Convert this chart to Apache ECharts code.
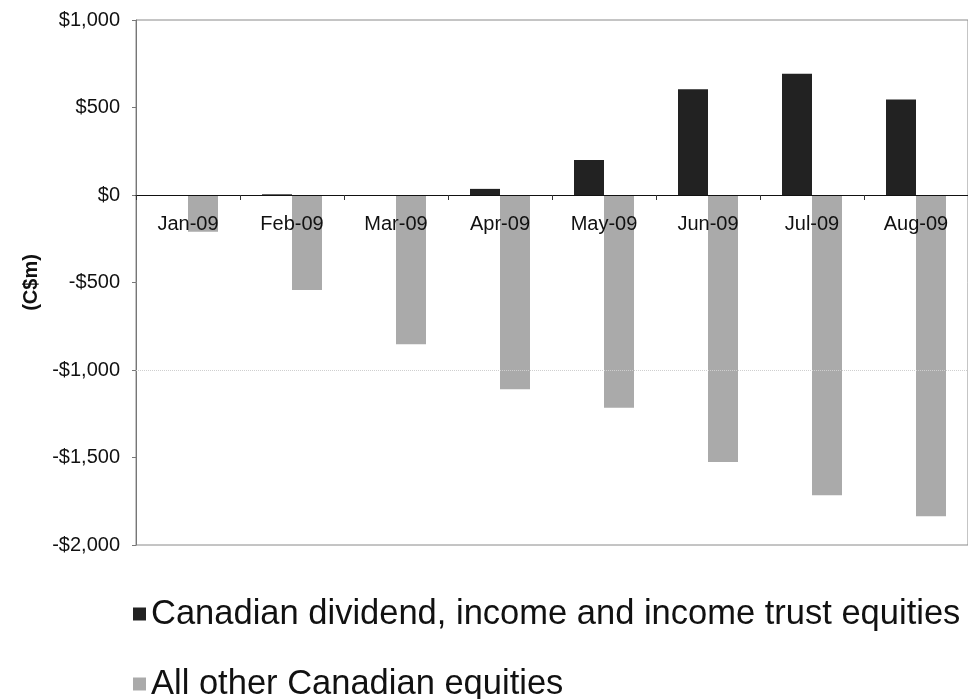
<!DOCTYPE html>
<html>
<head>
<meta charset="utf-8">
<script src="https://cdn.jsdelivr.net/npm/echarts@6/dist/echarts.min.js"></script>
<style>
html,body{margin:0;padding:0;background:#fff;}
#chart{width:968px;height:699px;}
</style>
</head>
<body>
<div id="chart"></div>
<script>
var categories = ['Jan-09','Feb-09','Mar-09','Apr-09','May-09','Jun-09','Jul-09','Aug-09'];
var seriesNames = ['Canadian dividend, income and income trust equities','All other Canadian equities'];
var dividendValues = [-5, 4, -3, 35, 200, 605, 693, 546];
var otherValues = [-210, -543, -853, -1110, -1215, -1526, -1716, -1836];
var yMin = -2000, yMax = 1000, yStep = 500;
var yAxisTitle = '(C$m)';

function fmt(v){
  var a = Math.abs(v).toString().replace(/\B(?=(\d{3})+(?!\d))/g, ',');
  return (v < 0 ? '-$' : '$') + a;
}

var gridTop = 20, gridHeight = 525;
// distance from the bottom of the plot up to the zero line, from the axis range
var zeroOffset = gridHeight * (0 - yMin) / (yMax - yMin);

var legendText = {fontSize:34.5, color:'#111', lineHeight:38, fontFamily:'Liberation Sans, Arial, sans-serif'};

var chart = echarts.init(document.getElementById('chart'), null, {renderer:'canvas'});
chart.setOption({
  animation:false,
  backgroundColor:'#ffffff',
  textStyle:{fontFamily:'Liberation Sans, Arial, sans-serif'},
  grid:{left:136, top:gridTop, width:852, height:gridHeight, show:true, borderColor:'#8a8a8a', borderWidth:1, backgroundColor:'transparent'},
  legend:[
    {left:128, top:590, itemWidth:13, itemHeight:13, icon:'rect', textStyle:legendText, data:[seriesNames[0]]},
    {left:128, top:660, itemWidth:13, itemHeight:13, icon:'rect', textStyle:legendText, data:[seriesNames[1]]}
  ],
  xAxis:{
    type:'category', data:categories, position:'bottom', z:10,
    offset:-zeroOffset,
    axisLine:{onZero:false, lineStyle:{color:'#111', width:1}},
    axisTick:{show:true, length:5, lineStyle:{color:'#333'}},
    axisLabel:{fontSize:20, color:'#111', margin:19, interval:0},
    splitLine:{show:false}
  },
  yAxis:{
    type:'value', min:yMin, max:yMax, interval:yStep,
    name:yAxisTitle, nameLocation:'middle', nameRotate:90, nameGap:93,
    nameTextStyle:{fontSize:20, fontWeight:'bold', color:'#111'},
    axisLine:{show:true, lineStyle:{color:'#777'}},
    axisTick:{show:true, length:4, lineStyle:{color:'#777'}},
    axisLabel:{fontSize:20, color:'#111', margin:16, formatter:fmt},
    splitLine:{show:false}
  },
  series:[
    {name:seriesNames[0], type:'bar', data:dividendValues, barWidth:30, barGap:'0%',
     itemStyle:{color:'#222222'}},
    {name:seriesNames[1], type:'bar', data:otherValues, barWidth:30, barGap:'0%',
     itemStyle:{color:'#aaaaaa'},
     markLine:{silent:true, symbol:'none', label:{show:false},
       lineStyle:{color:'#cfcfcf', type:'dotted', width:1},
       data:[{yAxis:-1000}]}}
  ]
});
</script>
</body>
</html>
